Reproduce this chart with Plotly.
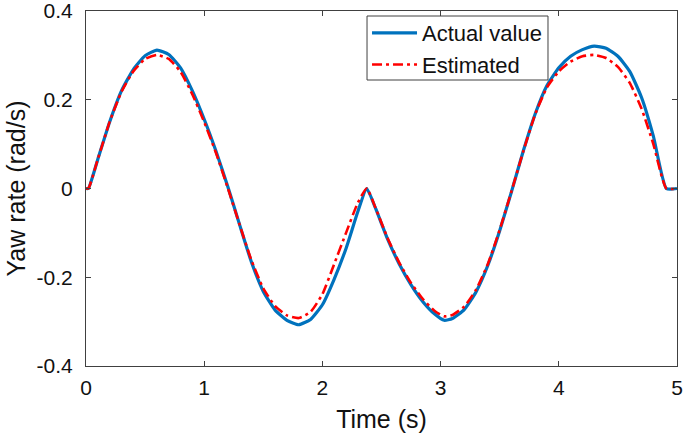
import plotly.graph_objects as go

# Time (s)
time_s = [0.00, 0.02, 0.10, 0.20, 0.30, 0.40, 0.50, 0.60, 0.70, 0.80, 0.90,
          1.00, 1.10, 1.20, 1.30, 1.40, 1.50, 1.60, 1.70, 1.80, 1.90,
          2.00, 2.10, 2.20, 2.30, 2.375, 2.45, 2.55, 2.65, 2.75, 2.85,
          2.95, 3.03, 3.10, 3.20, 3.30, 3.40, 3.50, 3.60, 3.70, 3.80,
          3.90, 4.00, 4.10, 4.20, 4.30, 4.40, 4.50, 4.60, 4.70, 4.80,
          4.91, 5.00]

# Actual yaw rate (rad/s)
actual_value = [0.000, 0.000, 0.066, 0.150, 0.220, 0.268, 0.299, 0.312, 0.302, 0.272, 0.220,
                0.156, 0.084, 0.004, -0.082, -0.166, -0.232, -0.274, -0.297, -0.307, -0.295,
                -0.262, -0.204, -0.135, -0.052, 0.000, -0.045, -0.113, -0.170, -0.217, -0.255,
                -0.283, -0.297, -0.293, -0.273, -0.233, -0.173, -0.095, -0.007, 0.085, 0.168,
                0.232, 0.272, 0.298, 0.313, 0.321, 0.316, 0.298, 0.264, 0.205, 0.118,
                0.000, 0.000]

# Estimated yaw rate (rad/s)
estimated = [0.000, 0.000, 0.066, 0.150, 0.218, 0.264, 0.292, 0.301, 0.292, 0.263, 0.212,
             0.150, 0.080, 0.001, -0.082, -0.162, -0.225, -0.265, -0.286, -0.292, -0.278,
             -0.238, -0.170, -0.100, -0.032, 0.000, -0.044, -0.111, -0.167, -0.213, -0.249,
             -0.276, -0.288, -0.285, -0.266, -0.228, -0.170, -0.093, -0.006, 0.084, 0.167,
             0.228, 0.264, 0.286, 0.298, 0.301, 0.294, 0.274, 0.238, 0.180, 0.100,
             0.000, 0.000]

x_ticks = [0, 1, 2, 3, 4, 5]
y_ticks = [-0.4, -0.2, 0, 0.2, 0.4]
y_tick_labels = ["-0.4", "-0.2", "0", "0.2", "0.4"]

FONT = "Liberation Sans, Arial, Helvetica, sans-serif"
AXIS_COLOR = "#404040"

fig = go.Figure()
fig.add_trace(go.Scatter(
    x=time_s, y=actual_value, mode="lines", name="Actual value",
    line=dict(color="#0072BD", width=3.2, shape="spline", smoothing=0.5),
))
fig.add_trace(go.Scatter(
    x=time_s, y=estimated, mode="lines", name="Estimated",
    line=dict(color="#FF0000", width=2.6, dash="10px,4px,3px,4px", shape="spline", smoothing=0.5),
))

axis_common = dict(
    showline=True, linecolor=AXIS_COLOR, linewidth=1, mirror="ticks",
    ticks="inside", ticklen=5, tickcolor=AXIS_COLOR, tickwidth=1,
    showgrid=False, zeroline=False, automargin=False,
    ticklabeloverflow="allow",
    tickfont=dict(family=FONT, size=21, color="#111111"),
)

# legend frame (paper coordinates)
fig.add_shape(type="rect", xref="paper", yref="paper",
              x0=0.4755, x1=0.7817, y0=0.8056, y1=0.9859,
              line=dict(color=AXIS_COLOR, width=1), fillcolor="white", layer="above")

fig.update_layout(
    width=685, height=435,
    margin=dict(l=86, r=8, t=11, b=69),
    paper_bgcolor="white", plot_bgcolor="white",
    font=dict(family=FONT, color="#111111"),
    showlegend=True,
    legend=dict(
        x=0.4755, y=0.997, xanchor="left", yanchor="top",
        bgcolor="rgba(0,0,0,0)", borderwidth=0,
        font=dict(family=FONT, size=22, color="#111111"),
        itemwidth=45,
    ),
    xaxis=dict(
        range=[0, 5], tickvals=x_ticks,
        title=dict(text="Time (s)", font=dict(family=FONT, size=25), standoff=12),
        ticklabelstandoff=3,
        **axis_common,
    ),
    yaxis=dict(
        range=[-0.4, 0.4], tickvals=y_ticks, ticktext=y_tick_labels,
        title=dict(text="Yaw rate (rad/s)", font=dict(family=FONT, size=25), standoff=3),
        ticklabelstandoff=8,
        **axis_common,
    ),
)

fig.write_html("out.html", config={"displayModeBar": False},
               post_script="document.body.style.margin='0';")
